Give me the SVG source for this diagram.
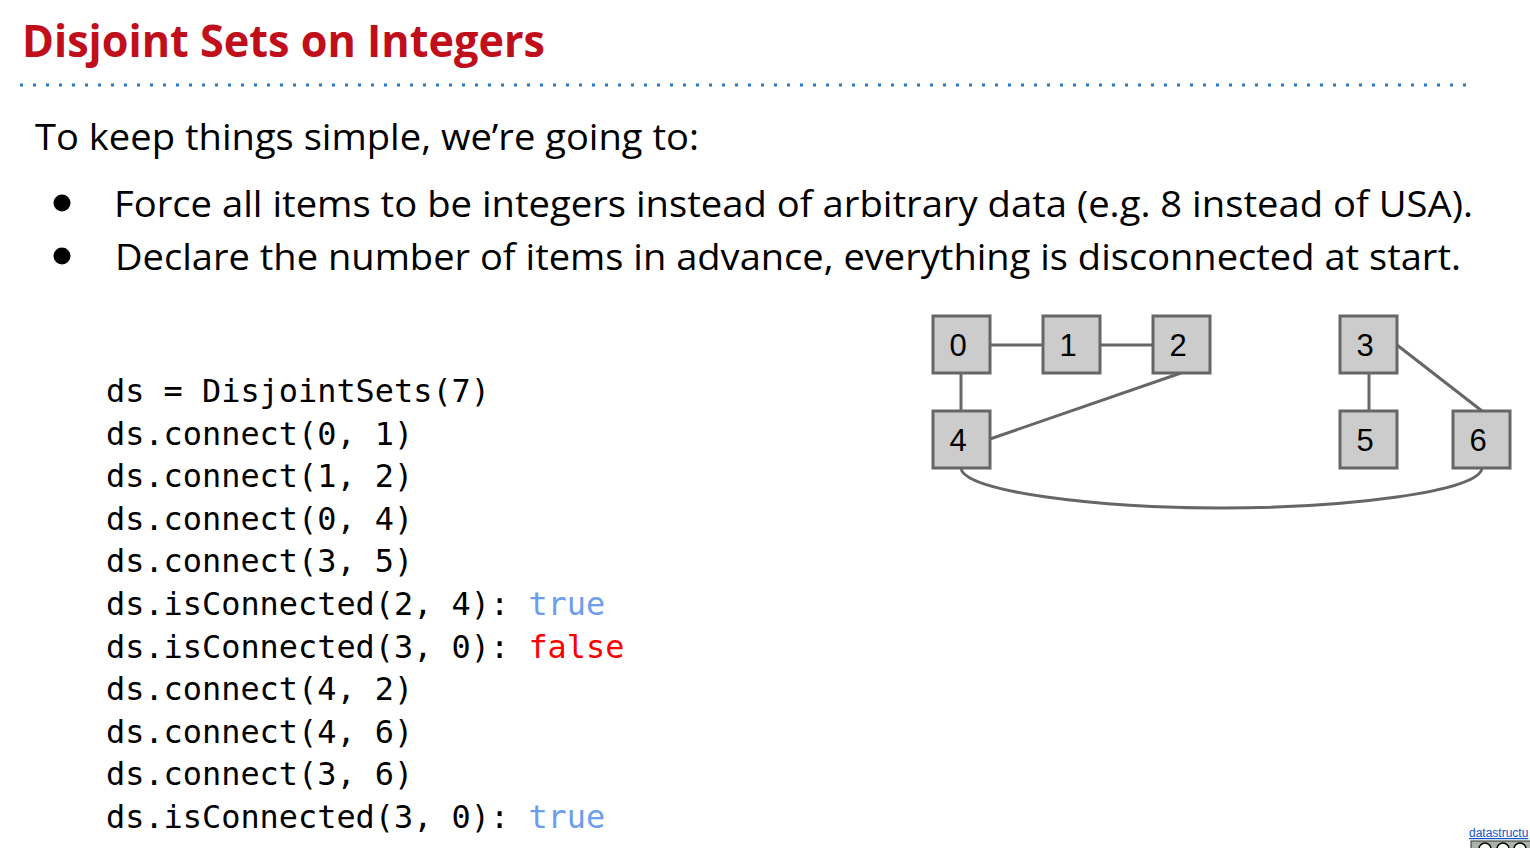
<svg xmlns="http://www.w3.org/2000/svg" width="1530" height="848" viewBox="0 0 1530 848">
  <style>
    .title { font-family: "Open Sans", "Liberation Sans", sans-serif; font-weight: bold; font-size: 45px; fill: #c00e1a; }
    .body { font-family: "Open Sans", "Liberation Sans", sans-serif; font-size: 37px; fill: #000; }
    .code { font-family: "DejaVu Sans Mono", "Liberation Mono", monospace; font-size: 31.9px; fill: #000; }
    .t { fill: #6d9eeb; }
    .f { fill: #ff0000; }
    .box { fill: #cccccc; stroke: #666666; stroke-width: 3; }
    .lbl { font-family: "Liberation Sans", Arial, sans-serif; font-size: 31px; fill: #000; text-anchor: middle; }
    .edge { fill: none; stroke: #666666; stroke-width: 3; }
  </style>

  <rect width="1530" height="848" fill="#ffffff"/>

  <!-- heading -->
  <text class="title" x="22" y="57" textLength="523" lengthAdjust="spacingAndGlyphs">Disjoint Sets on Integers</text>
  <line x1="20" y1="85" x2="1466" y2="85" stroke="#2a78c8" stroke-width="3" stroke-dasharray="3 10"/>

  <!-- intro text and bullets -->
  <text class="body" x="35" y="150" textLength="664" lengthAdjust="spacingAndGlyphs">To keep things simple, we’re going to:</text>
  <circle cx="62" cy="203" r="8.5" fill="#000"/>
  <circle cx="62" cy="256" r="8.5" fill="#000"/>
  <text class="body" x="114" y="217" textLength="1359" lengthAdjust="spacingAndGlyphs">Force all items to be integers instead of arbitrary data (e.g. 8 instead of USA).</text>
  <text class="body" x="115" y="270" textLength="1346" lengthAdjust="spacingAndGlyphs">Declare the number of items in advance, everything is disconnected at start.</text>

  <!-- code listing -->
  <g id="code" class="code">
    <text x="106" y="402">ds = DisjointSets(7)</text>
    <text x="106" y="444.6">ds.connect(0, 1)</text>
    <text x="106" y="487.2">ds.connect(1, 2)</text>
    <text x="106" y="529.8">ds.connect(0, 4)</text>
    <text x="106" y="572.4">ds.connect(3, 5)</text>
    <text x="106" y="615">ds.isConnected(2, 4): <tspan class="t">true</tspan></text>
    <text x="106" y="657.6">ds.isConnected(3, 0): <tspan class="f">false</tspan></text>
    <text x="106" y="700.2">ds.connect(4, 2)</text>
    <text x="106" y="742.8">ds.connect(4, 6)</text>
    <text x="106" y="785.4">ds.connect(3, 6)</text>
    <text x="106" y="828">ds.isConnected(3, 0): <tspan class="t">true</tspan></text>
  </g>

  <!-- connectors -->
  <g id="edges">
    <line class="edge" x1="990" y1="345" x2="1043" y2="345"/>
    <line class="edge" x1="1100" y1="345" x2="1153" y2="345"/>
    <line class="edge" x1="961" y1="373" x2="961" y2="411"/>
    <line class="edge" x1="1181" y1="373" x2="990" y2="439"/>
    <line class="edge" x1="1369" y1="373" x2="1369" y2="411"/>
    <line class="edge" x1="1397" y1="345" x2="1482" y2="411"/>
    <path class="edge" d="M961,468 C963,492 1100,508 1222,508 C1344,508 1480,492 1482,468"/>
  </g>

  <!-- nodes -->
  <g id="n0"><rect class="box" x="933" y="316" width="57" height="57"/><text class="lbl" x="958" y="356">0</text></g>
  <g id="n1"><rect class="box" x="1043" y="316" width="57" height="57"/><text class="lbl" x="1068" y="356">1</text></g>
  <g id="n2"><rect class="box" x="1153" y="316" width="57" height="57"/><text class="lbl" x="1178" y="356">2</text></g>
  <g id="n3"><rect class="box" x="1340" y="316" width="57" height="57"/><text class="lbl" x="1365" y="356">3</text></g>
  <g id="n4"><rect class="box" x="933" y="411" width="57" height="57"/><text class="lbl" x="958" y="451">4</text></g>
  <g id="n5"><rect class="box" x="1340" y="411" width="57" height="57"/><text class="lbl" x="1365" y="451">5</text></g>
  <g id="n6"><rect class="box" x="1453" y="411" width="57" height="57"/><text class="lbl" x="1478" y="451">6</text></g>

  <!-- footer link and licence badge -->
  <text x="1469" y="837" font-family="Liberation Sans, Arial, sans-serif" font-size="12" fill="#1155cc" text-decoration="underline">datastructu</text>
  <g id="badge">
    <rect x="1471" y="841" width="62" height="12" fill="#aab2ab" stroke="#333" stroke-width="1"/>
    <circle cx="1485" cy="849" r="6" fill="#fff" stroke="#000" stroke-width="1.5"/>
    <circle cx="1503" cy="849" r="6" fill="#fff" stroke="#000" stroke-width="1.5"/>
    <circle cx="1520" cy="849" r="6" fill="#fff" stroke="#000" stroke-width="1.5"/>
  </g>
</svg>
